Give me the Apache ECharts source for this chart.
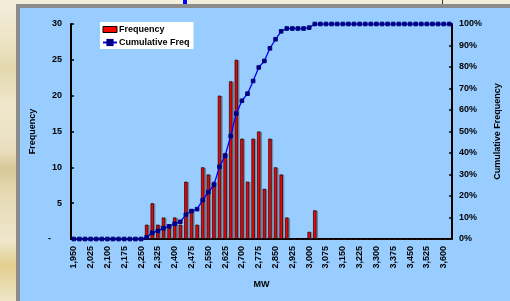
<!DOCTYPE html>
<html><head><meta charset="utf-8">
<script src="https://cdn.jsdelivr.net/npm/echarts@6/dist/echarts.min.js"></script>
<style>
html,body{margin:0;padding:0;}
#wrap{position:relative;width:510px;height:301px;overflow:hidden;
background:linear-gradient(180deg,#f3eedc 0%,#ece3c4 15%,#e3d7ae 22%,#efe7cc 35%,#e9dfbf 50%,#d8c898 56%,#e6dab4 64%,#efe6cc 80%,#e2cf8e 88%,#efe6c8 100%);}
#frame{position:absolute;left:16px;top:4px;width:600px;height:400px;background:#8c8c8c;}
#blue{position:absolute;left:20px;top:8px;width:600px;height:400px;background:#99ccff;}
#mark1{position:absolute;left:183px;top:0;width:4px;height:4px;background:#0000ff;}
#mark2{position:absolute;left:442px;top:0;width:1px;height:4px;background:#333;}
#chart{position:absolute;left:0;top:0;width:510px;height:301px;}
</style></head>
<body>
<div id="wrap"><div id="frame"></div><div id="blue"></div><div id="mark1"></div><div id="mark2"></div><div id="chart"></div></div>
<script>
const categories = ['1,950','1,975','2,000','2,025','2,050','2,075','2,100','2,125','2,150','2,175','2,200','2,225','2,250','2,275','2,300','2,325','2,350','2,375','2,400','2,425','2,450','2,475','2,500','2,525','2,550','2,575','2,600','2,625','2,650','2,675','2,700','2,725','2,750','2,775','2,800','2,825','2,850','2,875','2,900','2,925','2,950','2,975','3,000','3,025','3,050','3,075','3,100','3,125','3,150','3,175','3,200','3,225','3,250','3,275','3,300','3,325','3,350','3,375','3,400','3,425','3,450','3,475','3,500','3,525','3,550','3,575','3,600','3,625'];
const frequency = [0,0,0,0,0,0,0,0,0,0,0,0,0,2,5,2,3,2,3,2,8,4,2,10,9,8,20,12,22,25,14,8,14,15,7,14,10,9,3,0,0,0,1,4,0,0,0,0,0,0,0,0,0,0,0,0,0,0,0,0,0,0,0,0,0,0,0,0];
const cumulativePct = [0,0,0,0,0,0,0,0,0,0,0,0,0,0.8,2.9,3.8,5.0,5.9,7.1,8.0,11.3,13.0,13.9,18.1,21.8,25.2,33.6,38.7,47.9,58.4,64.3,67.6,73.5,79.8,82.8,88.7,92.9,96.6,97.9,97.9,97.9,97.9,98.3,100,100,100,100,100,100,100,100,100,100,100,100,100,100,100,100,100,100,100,100,100,100,100,100,100];
const seriesNames = ['Frequency','Cumulative Freq'];
const axisNames = {x:'MW', left:'Frequency', right:'Cumulative Frequency'};

const font = 'Liberation Sans, Arial, sans-serif';
const lbl = {fontSize:9,fontWeight:'bold',color:'#000',fontFamily:font};
const chart = echarts.init(document.getElementById('chart'),null,{renderer:'canvas'});
chart.setOption({
  animation:false,
  backgroundColor:'transparent',
  textStyle:{fontFamily:font},
  grid:{left:71,right:48,top:24,bottom:62,containLabel:false},
  legend:{
    orient:'vertical',left:100,top:22,backgroundColor:'#ffffff',
    padding:[3,4,2,2],itemGap:4,itemWidth:14,itemHeight:9,
    textStyle:Object.assign({},lbl,{padding:[0,0,0,-3]}),
    data:[{name:seriesNames[0],icon:'path://M0,0H14V6H0Z',itemStyle:{shadowColor:'transparent',borderWidth:1,borderColor:'#000'}},{name:seriesNames[1]}]
  },
  xAxis:{
    type:'category',data:categories,boundaryGap:true,
    axisLine:{lineStyle:{color:'#000',width:2}},
    axisTick:{inside:true,length:3,interval:2,lineStyle:{color:'#000',width:1.5}},
    axisLabel:Object.assign({},lbl,{interval:2,rotate:90,margin:7}),
    name:axisNames.x,nameLocation:'middle',nameGap:41,nameTextStyle:lbl
  },
  yAxis:[{
    type:'value',min:0,max:30,interval:5,position:'left',
    axisLine:{show:true,lineStyle:{color:'#000',width:2}},
    axisTick:{show:true,inside:true,length:3,lineStyle:{color:'#000',width:1.5}},
    splitLine:{show:false},
    axisLabel:Object.assign({},lbl,{margin:9,formatter:function(v){return v===0?'{d|-}':String(v);},
      rich:{d:{fontSize:9,fontWeight:'bold',color:'#000',padding:[0,11,0,0]}}}),
    name:axisNames.left,nameLocation:'middle',nameGap:31,nameRotate:90,nameTextStyle:lbl
  },{
    type:'value',min:0,max:100,interval:10,position:'right',
    axisLine:{show:true,lineStyle:{color:'#000',width:2}},
    axisTick:{show:true,inside:true,length:3,lineStyle:{color:'#000',width:1.5}},
    splitLine:{show:false},
    axisLabel:Object.assign({},lbl,{margin:7,formatter:'{value}%'}),
    name:axisNames.right,nameLocation:'middle',nameGap:34,nameRotate:90,nameTextStyle:lbl
  }],
  series:[{
    name:seriesNames[0],type:'bar',data:frequency,barWidth:3.4,yAxisIndex:0,
    itemStyle:{color:'#ff0000',borderColor:'#1a0000',borderWidth:0.7,shadowColor:'rgba(60,60,60,0.35)',shadowBlur:0.5,shadowOffsetX:1.5,shadowOffsetY:0.5},
    emphasis:{disabled:true}
  },{
    name:seriesNames[1],type:'line',data:cumulativePct,yAxisIndex:1,z:4,
    symbol:'rect',symbolSize:3.6,showAllSymbol:true,
    itemStyle:{color:'#000080',borderColor:'#000080'},
    lineStyle:{color:'#0000ff',width:1.3},
    emphasis:{disabled:true}
  }]
});
</script>
</body></html>
